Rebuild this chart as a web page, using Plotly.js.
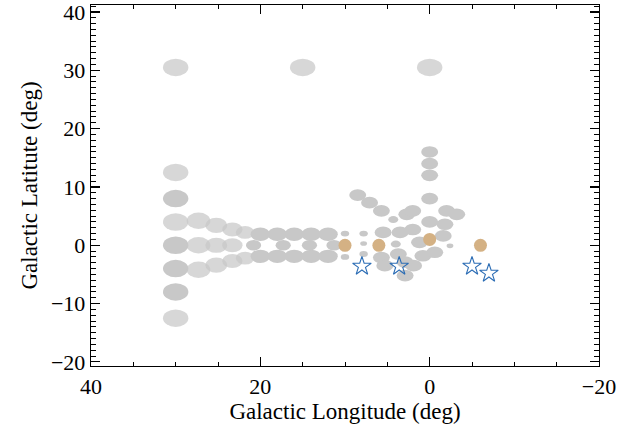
<!DOCTYPE html>
<html>
<head>
<meta charset="utf-8">
<script src="https://cdn.plot.ly/plotly-3.0.1.min.js"></script>
<style>html,body{margin:0;padding:0;background:#fff;}#chart{width:631px;height:427px;}</style>
</head>
<body>
<div id="chart"></div>
<script>
// Survey fields: centre (l, b) in deg, field radius in deg, 1 = densely sampled, 0 = sparse
const fieldL = [30, 30, 30, 30, 30, 30, 30, 30, 15, 0,
  27.3, 27.3, 27.3, 25.2, 25.2, 25.2, 23.3, 23.3, 23.3, 21.8, 21.8,
  20, 18, 16, 14, 12, 20, 18, 16, 14, 12, 20.8, 17.3, 14.2, 11.3,
  10, 10,
  8.5, 7.1, 5.7, 4.3, 2.7, 2.0, -2.0, -3.2,
  0, 0, 0, 0, 0,
  5.5, 3.5, 2.0, -1.6, -1.8, -2.4,
  7.8, 7.8, 7.8, 4.0,
  5.7, 5.3, 3.7, 2.9, 1.9, 2.9,
  1.2, 0.8, -0.6];
const fieldB = [30.5, 12.5, 8, 4, 0, -4, -8, -12.5, 30.5, 30.5,
  4.2, 0, -4.2, 3.4, 0, -3.4, 2.7, 0, -2.7, 2.2, -2.2,
  1.9, 1.9, 1.9, 1.9, 1.9, -1.9, -1.9, -1.9, -1.9, -1.9, 0, 0, 0, 0,
  2, -2,
  8.6, 7.3, 5.9, 4.4, 5.3, 5.9, 5.9, 5.3,
  16, 14, 12, 8, 4,
  2.2, 2.2, 2.7, 1.6, 3.6, -0.1,
  2, 0.3, -1.5, 0.2,
  -2.1, -3.5, -1.5, -2.9, -3.5, -5.2,
  0.5, -1.8, -1.2];
const fieldR = [1.5, 1.5, 1.5, 1.5, 1.5, 1.5, 1.5, 1.5, 1.5, 1.5,
  1.4, 1.4, 1.4, 1.3, 1.3, 1.3, 1.2, 1.2, 1.2, 1.1, 1.1,
  1.15, 1.15, 1.15, 1.15, 1.15, 1.15, 1.15, 1.15, 1.15, 1.15, 0.9, 0.9, 0.9, 0.9,
  0.5, 0.5,
  1, 1, 1, 0.6, 1, 1, 1, 1,
  1, 1, 1, 1, 1,
  1, 1, 1, 1, 1, 0.4,
  0.5, 0.4, 0.5, 0.6,
  1, 1, 1, 1, 1, 1,
  1, 1, 1];
const fieldDense = [0, 0, 1, 0, 1, 1, 1, 0, 0, 0,
  0, 0, 0, 0, 0, 0, 0, 0, 0, 0, 0,
  1, 1, 1, 1, 1, 1, 1, 1, 1, 1, 1, 1, 1, 1,
  1, 1,
  1, 1, 1, 1, 1, 1, 1, 1,
  1, 1, 1, 1, 1,
  1, 1, 1, 1, 1, 1,
  1, 1, 1, 1,
  1, 1, 1, 1, 1, 1,
  1, 1, 1];

// Tan circles
const circL = [10, 6, 0, -6];
const circB = [0, 0, 1, 0];
// Blue open stars
const starL = [8, 3.6, -5, -7];
const starB = [-3.6, -3.6, -3.6, -4.8];

const shapes = fieldL.map((l, i) => ({
  type: 'circle', xref: 'x', yref: 'y', layer: 'below',
  x0: l - fieldR[i], x1: l + fieldR[i],
  y0: fieldB[i] - fieldR[i], y1: fieldB[i] + fieldR[i],
  fillcolor: '#c8c8c8', opacity: fieldDense[i] ? 1 : 0.72,
  line: {width: 0}
}));

const traces = [
  {x: circL, y: circB, type: 'scatter', mode: 'markers',
   marker: {symbol: 'circle', size: 13, color: '#d4b184'}, hoverinfo: 'x+y'},
  {x: starL, y: starB, type: 'scatter', mode: 'markers',
   marker: {symbol: 'star-open', size: 14, color: '#2c6db5', line: {width: 1.1, color: '#2c6db5'}}, hoverinfo: 'x+y'}
];

const fontFam = '"Liberation Serif", "Times New Roman", serif';
const axisCommon = {
  showgrid: false, zeroline: false, showline: true, linecolor: '#000', linewidth: 1.3,
  mirror: 'allticks', ticks: 'inside', tickcolor: '#000', tickwidth: 1.1,
  ticklabeloverflow: 'allow',
  tickfont: {family: fontFam, size: 22, color: '#000'}
};

const layout = {
  width: 631, height: 427,
  margin: {l: 91, r: 32, t: 5, b: 61},
  paper_bgcolor: '#fff', plot_bgcolor: '#fff',
  showlegend: false,
  shapes: shapes,
  xaxis: Object.assign({}, axisCommon, {
    range: [40, -20], tickmode: 'linear', tick0: 0, dtick: 20, ticklen: 9,
    minor: {dtick: 5, tick0: 0, ticklen: 4, ticks: 'inside', tickcolor: '#000', tickwidth: 1},
    title: {text: 'Galactic Longitude (deg)', font: {family: fontFam, size: 23, color: '#000'}, standoff: 2}
  }),
  yaxis: Object.assign({}, axisCommon, {
    range: [-20.7, 41.2], tickmode: 'linear', tick0: 0, dtick: 10, ticklen: 9,
    minor: {dtick: 1, tick0: 0, ticklen: 5, ticks: 'inside', tickcolor: '#000', tickwidth: 1},
    title: {text: 'Galactic Latitute (deg)', font: {family: fontFam, size: 23, color: '#000'}, standoff: 6}
  })
};

Plotly.newPlot('chart', traces, layout, {displayModeBar: false, staticPlot: true});
</script>
</body>
</html>
